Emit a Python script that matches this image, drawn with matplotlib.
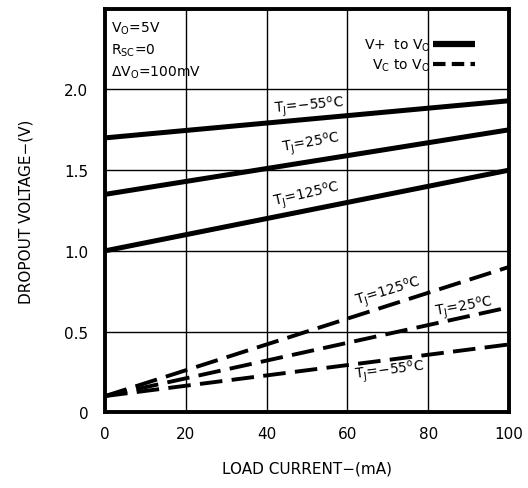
import matplotlib.pyplot as plt

# load current (mA)
current = [0, 50, 100]

# V+ to VO dropout (V)
vplus_m55 = [1.70, 1.815, 1.93]
vplus_25 = [1.35, 1.55, 1.75]
vplus_125 = [1.00, 1.25, 1.50]

# VC to VO dropout (V)
vc_m55 = [0.10, 0.26, 0.42]
vc_25 = [0.10, 0.375, 0.65]
vc_125 = [0.10, 0.50, 0.90]

xticks = [0, 20, 40, 60, 80, 100]
yticks = [0, 0.5, 1.0, 1.5, 2.0]
ytick_labels = ['0', '0.5', '1.0', '1.5', '2.0']

plt.rcParams['font.family'] = 'DejaVu Sans'
plt.rcParams['mathtext.default'] = 'regular'

fig = plt.figure(figsize=(5.28, 4.89), dpi=100)
ax = fig.add_axes([0.199, 0.155, 0.765, 0.825])

solid_lw = 3.6
dash_lw = 2.8
dash = (5.8, 2.4)

ax.plot(current, vplus_m55, color='black', lw=solid_lw, solid_capstyle='butt')
ax.plot(current, vplus_25, color='black', lw=solid_lw, solid_capstyle='butt')
ax.plot(current, vplus_125, color='black', lw=solid_lw, solid_capstyle='butt')
ax.plot(current, vc_m55, color='black', lw=dash_lw, dashes=dash)
ax.plot(current, vc_25, color='black', lw=dash_lw, dashes=dash)
ax.plot(current, vc_125, color='black', lw=dash_lw, dashes=dash)

ax.set_xlim(0, 100)
ax.set_ylim(0, 2.5)
ax.set_xticks(xticks)
ax.set_yticks(yticks)
ax.set_yticklabels(ytick_labels)
ax.tick_params(length=0, labelsize=11, pad=12)
ax.tick_params(axis='x', pad=10)
ax.grid(True, color='black', lw=1.0)
for s in ax.spines.values():
    s.set_linewidth(2.8)

ax.set_xlabel('LOAD CURRENT\u2212(mA)', fontsize=11, labelpad=14)
ax.set_ylabel('DROPOUT VOLTAGE\u2212(V)', fontsize=11, labelpad=22)

# conditions
cond = dict(fontsize=10, va='center')
ax.text(1.5, 2.38, '$V_O$=5V', **cond)
ax.text(1.5, 2.245, '$R_{SC}$=0', **cond)
ax.text(1.5, 2.11, '$\\Delta V_O$=100mV', **cond)

# curve labels
lab = dict(fontsize=10, ha='center', va='center')
ax.text(50.5, 1.90, '$T_J$=\u221255$^oC$', rotation=5, **lab)
ax.text(51, 1.67, '$T_J$=25$^oC$', rotation=10, **lab)
ax.text(50, 1.35, '$T_J$=125$^oC$', rotation=13, **lab)
ax.text(70, 0.75, '$T_J$=125$^oC$', rotation=17, **lab)
ax.text(89, 0.655, '$T_J$=25$^oC$', rotation=10, **lab)
ax.text(70.5, 0.26, '$T_J$=\u221255$^oC$', rotation=7, **lab)

# legend
h1, = ax.plot([], [], color='black', lw=4.5, solid_capstyle='butt')
h2, = ax.plot([], [], color='black', lw=3.0, dashes=(3.0, 1.5))
ax.legend([h1, h2], ['V+  to $V_O$', '$V_C$ to $V_O$'], loc='upper right',
          bbox_to_anchor=(0.94, 0.955), frameon=False, markerfirst=False,
          handlelength=3.0, handletextpad=0.2, fontsize=10, labelspacing=0.25,
          borderpad=0.2)

fig.savefig('out.png', dpi=100)
